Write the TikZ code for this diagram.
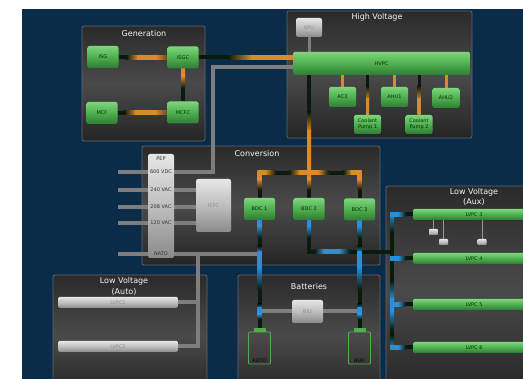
\documentclass[tikz,border=0pt]{standalone}
\usepackage{fontspec}
\setmainfont{DejaVu Sans}
\usetikzlibrary{positioning,calc}

\definecolor{bgblue}{HTML}{0B2C48}
\definecolor{pnltop}{HTML}{2A2A2A}
\definecolor{pnlmid}{HTML}{4A4A4A}
\definecolor{pnlbot}{HTML}{252525}
\definecolor{pnlrim}{HTML}{5E666C}
\definecolor{grnhi}{HTML}{7CD67A}
\definecolor{grnmid}{HTML}{4FAF4F}
\definecolor{grnlo}{HTML}{2E7D32}
\definecolor{slvhi}{HTML}{E6E6E6}
\definecolor{slvmid}{HTML}{BEBEBE}
\definecolor{slvlo}{HTML}{8A8A8A}
\definecolor{slvtxt}{HTML}{8E8E8E}
\definecolor{lndark}{HTML}{0A1A0C}
\definecolor{lnor}{HTML}{D98B2B}
\definecolor{lnblue}{HTML}{2B8FD8}
\definecolor{lngray}{HTML}{7E7E7E}

\pgfdeclarelayer{background}
\pgfdeclarelayer{wires}
\pgfsetlayers{background,wires,main}

% glow pieces on the dark wires
\newcommand{\hglow}[6][2]{\shade[left color=#5,right color=#6] (#2,#4-#1) rectangle (#3,#4+#1);}
\newcommand{\vglow}[6][2]{\shade[top color=#5,bottom color=#6] (#4-#1,#2) rectangle (#4+#1,#3);}

\begin{document}
\begin{tikzpicture}[x=1pt, y=-1pt, font=\fontsize{5}{6}\selectfont,
    panel/.style={draw=pnlrim, line width=0.8pt, rounded corners=2pt,
                  top color=pnltop, bottom color=pnlbot, middle color=pnlmid},
    title/.style={text=white!92!gray, font=\fontsize{8}{10.5}\selectfont,
                  align=center, inner sep=0pt},
    main node/.style={rounded corners=2pt, top color=grnhi, bottom color=grnlo,
                  middle color=grnmid, text=black!80!green, inner sep=0pt,
                  align=center, minimum width=31pt, minimum height=22pt},
    small node/.style={main node, minimum width=27pt, minimum height=20pt},
    silver node/.style={rounded corners=2pt, top color=slvhi, bottom color=slvlo,
                  middle color=slvmid, text=slvtxt, inner sep=0pt, align=center},
    bar/.style={rounded corners=1.5pt, top color=grnhi, bottom color=grnlo,
                  middle color=grnmid, inner sep=0pt, minimum height=11pt,
                  text=black!80!green},
    silver bar/.style={bar, top color=slvhi, bottom color=slvlo,
                  middle color=slvmid, text=slvtxt},
    pep text/.style={text=black!80, inner sep=0pt},
    load/.style={silver node, rounded corners=0.8pt, minimum width=9pt, minimum height=6pt},
    battery/.style={draw=grnmid, line width=0.8pt, rounded corners=1pt,
                  minimum width=22pt, minimum height=32pt, inner sep=0pt},
    wire/.style={line width=4pt, draw=lndark},
    thin wire/.style={line width=3pt, draw=lndark},
    gray wire/.style={line width=4pt, draw=lngray}]

  \useasboundingbox (0,0) rectangle (523,379);
  \clip (0,0) rectangle (523,379);

  % panels
  \begin{pgfonlayer}{background}
    \fill[bgblue] (22,9) rectangle (523,379);
    \draw[panel] (82,26) rectangle (205,141);
    \draw[panel] (287,11) rectangle (472,138);
    \draw[panel] (142,146) rectangle (380,265);
    \draw[panel] (53,275) rectangle (207,395);
    \draw[panel] (238,275) rectangle (380,395);
    \draw[panel] (386,186) rectangle (560,395);
  \end{pgfonlayer}

  \node[title] (gentitle) at (144,34) {Generation};
  \node[title] (hvtitle) at (377,17) {High Voltage};
  \node[title] (convtitle) at (257,154) {Conversion};
  \node[title] (autotitle) at (124,286.5) {Low Voltage\\(Auto)};
  \node[title] (battitle) at (309,287) {Batteries};
  \node[title] (auxtitle) at (474,197) {Low Voltage\\(Aux)};

  % generation
  \node[main node] (ISG) at (103,57) {ISG};
  \node[main node] (ISGC) at (183,57.5) {ISGC};
  \node[main node] (MCF) at (102,113) {MCF};
  \node[main node] (MCFC) at (183,112.5) {MCFC};

  % high voltage
  \node[silver node, minimum width=26pt, minimum height=19pt] (APU) at (309,27.5) {APU};
  \node[bar, minimum width=177pt, minimum height=23pt] (HVPC) at (381.5,63.5) {HVPC};
  \node[small node] (AC3) at (342.5,97) {AC3};
  \node[small node] (AHU1) at (394.5,97) {AHU1};
  \node[small node] (AHU2) at (446,98) {AHU2};
  \node[small node, minimum height=19pt] (CP1) at (367.5,124.5) {Coolant\\Pump 1};
  \node[small node, minimum height=19pt] (CP2) at (419,124.5) {Coolant\\Pump 2};

  % conversion
  \node[silver node, minimum width=26pt, minimum height=104pt] (PEP) at (161,206) {};
  \node[pep text] (peptitle) at (161,159) {PEP};
  \node[pep text] (pep600) at (161,172) {600 VDC};
  \node[pep text] (pep240) at (161,190) {240 VAC};
  \node[pep text] (pep208) at (161,207) {208 VAC};
  \node[pep text] (pep120) at (161,223) {120 VAC};
  \node[pep text] (pepnato) at (161,254) {NATO};
  \node[silver node, minimum width=35pt, minimum height=53pt] (IEPC) at (213.5,205.5) {IEPC};
  \node[main node] (BDC1) at (259.5,209) {BDC 1};
  \node[main node] (BDC2) at (309,209) {BDC 2};
  \node[main node] (BDC3) at (359.5,209.5) {BDC 3};

  % low voltage auto
  \node[silver bar, minimum width=120pt] (LVPC1) at (118,302.5) {LVPC1};
  \node[silver bar, minimum width=120pt] (LVPC2) at (118,346.5) {LVPC2};

  % batteries
  \node[silver node, minimum width=31pt, minimum height=23pt] (BIU) at (307.5,311.5) {BIU};
  \node[battery, label={[anchor=south, inner sep=2pt, text=black]south:AUTO}] (autobat) at (259.5,348) {};
  \node[battery, label={[anchor=south, inner sep=2pt, text=black]south:AUX}] (auxbat) at (359.5,348) {};
  \fill[grnmid] ($(autobat.north)+(-6,0)$) rectangle ($(autobat.north)+(6,-4)$);
  \fill[grnmid] ($(auxbat.north)+(-6,0)$) rectangle ($(auxbat.north)+(6,-4)$);

  % low voltage aux
  \node[bar, minimum width=122pt] (LVPC3) at (474,214.5) {LVPC 3};
  \node[bar, minimum width=122pt] (LVPC4) at (474,258.5) {LVPC 4};
  \node[bar, minimum width=122pt] (LVPC5) at (474,304.5) {LVPC 5};
  \node[bar, minimum width=122pt] (LVPC6) at (474,347.5) {LVPC 6};
  \node[load] (load1) at (433.5,232) {};
  \node[load] (load2) at (443.5,242) {};
  \node[load] (load3) at (482,242) {};

  \coordinate (gcorner) at (213,67);
  \coordinate (g600) at (118,172);
  \coordinate (g240) at (118,190);
  \coordinate (g208) at (118,207);
  \coordinate (g120) at (118,223);
  \coordinate (gnato) at (118,254);
  \coordinate (gauto) at (198,254);
  \coordinate (jc) at (309,173);
  \coordinate (auxbus) at (392,252);

  \begin{pgfonlayer}{wires}
    % gray lines
    \draw[gray wire] (g600) -- (g600 -| gcorner) -- (gcorner) -- (gcorner -| HVPC.west);
    \draw[gray wire] (g240) -- (g240 -| IEPC.west);
    \draw[gray wire] (g208) -- (g208 -| IEPC.west);
    \draw[gray wire] (g120) -- (g120 -| IEPC.west);
    \draw[gray wire] (gnato) -- (gnato -| BDC1);
    \draw[gray wire] (gauto) -- (gauto |- LVPC2.east) -- (LVPC2.east);
    \draw[gray wire] (LVPC1.east) -- (LVPC1.east -| gauto);
    \draw[gray wire, line width=3pt] (APU) -- (APU |- HVPC.north);
    \draw[gray wire] (autobat |- BIU) -- (auxbat |- BIU);
    \draw[lngray!80, line width=1pt] (load1.north |- LVPC3.south) -- (load1);
    \draw[lngray!80, line width=1pt] (load2.north |- LVPC3.south) -- (load2);
    \draw[lngray!80, line width=1pt] (load3.north |- LVPC3.south) -- (load3);

    % high voltage lines
    \draw[wire] (ISG) -- (ISGC);
    \draw[wire] (MCF) -- (MCFC);
    \draw[wire] (ISGC) -- (MCFC);
    \draw[wire] (ISGC.east) -- (ISGC.east -| HVPC.west);
    \draw[thin wire, draw=lnor] (HVPC.south -| AC3) -- (AC3);
    \draw[thin wire, draw=lnor] (HVPC.south -| AHU1) -- (AHU1);
    \draw[thin wire, draw=lnor] (HVPC.south -| AHU2) -- (AHU2);
    \draw[thin wire] (HVPC.south -| CP1) -- (CP1);
    \draw[thin wire] (HVPC.south -| CP2) -- (CP2);
    \draw[wire] (HVPC.south -| jc) -- (jc);
    \draw[wire] (BDC1.north) -- (BDC1.north |- jc) -- (BDC3.north |- jc) -- (BDC3.north);
    \draw[wire] (jc) -- (BDC2.north);
    \hglow{126}{138}{57.5}{lndark}{lnor} \hglow{137}{157}{57.5}{lnor}{lnor}
    \hglow{156}{167}{57.5}{lnor}{lnor!45!lndark}
    \hglow{124}{136}{113}{lndark}{lnor} \hglow{135}{156}{113}{lnor}{lnor}
    \hglow{155}{167}{113}{lnor}{lnor!45!lndark}
    \vglow{69}{77}{183}{lnor}{lnor} \vglow{76}{88}{183}{lnor}{lndark}
    \hglow{228}{252}{57.5}{lndark}{lnor} \hglow{251}{293}{57.5}{lnor}{lnor}
    \vglow[1.5]{86}{100}{367.5}{lndark}{lnor} \vglow[1.5]{99}{115}{367.5}{lnor}{lnor}
    \vglow[1.5]{86}{100}{419}{lndark}{lnor} \vglow[1.5]{99}{115}{419}{lnor}{lnor}
    \vglow{112}{132}{309}{lndark}{lnor} \vglow{131}{175}{309}{lnor}{lnor}
    \hglow{257.5}{266}{173}{lnor}{lnor} \hglow{265}{276}{173}{lnor}{lndark}
    \hglow{289}{300}{173}{lndark}{lnor} \hglow{299}{319}{173}{lnor}{lnor}
    \hglow{318}{329}{173}{lnor}{lndark} \hglow{343}{352}{173}{lndark}{lnor}
    \hglow{351}{361.5}{173}{lnor}{lnor}
    \foreach \xx in {259.5,309,359.5} {
      \vglow{171}{180}{\xx}{lnor}{lnor} \vglow{179}{190}{\xx}{lnor}{lndark}
    }

    % low voltage lines
    \draw[wire] (BDC1.south) -- (autobat.north);
    \draw[wire] (BDC3.south) -- (auxbat.north);
    \draw[wire] (BDC2.south) -- (BDC2.south |- auxbus) -- (auxbus);
    \draw[wire] (LVPC3.west) -- (LVPC3.west -| auxbus) -- (LVPC6.west -| auxbus) -- (LVPC6.west);
    \draw[wire] (LVPC4.west -| auxbus) -- (LVPC4.west);
    \draw[wire] (LVPC5.west -| auxbus) -- (LVPC5.west);
    \foreach \xx in {259.5,359.5} {
      \vglow{220}{227}{\xx}{lnblue}{lnblue} \vglow{226}{238}{\xx}{lnblue}{lndark}
      \vglow{246}{253}{\xx}{lndark}{lnblue} \vglow{252}{268}{\xx}{lnblue}{lnblue}
      \vglow{267}{290}{\xx}{lnblue}{lndark} \vglow{304}{309}{\xx}{lndark}{lnblue}
      \vglow{308}{315}{\xx}{lnblue}{lnblue} \vglow{314}{319}{\xx}{lnblue}{lndark}
    }
    \vglow{220}{227}{309}{lnblue}{lnblue} \vglow{226}{238}{309}{lnblue}{lndark}
    \hglow{314}{324}{252}{lndark}{lnblue} \hglow{323}{340}{252}{lnblue}{lnblue}
    \hglow{339}{350}{252}{lnblue}{lndark}
    \vglow{213}{232}{392}{lnblue}{lndark} \vglow{280}{300}{392}{lndark}{lnblue}
    \vglow{299}{312}{392}{lnblue}{lnblue} \vglow{311}{330}{392}{lnblue}{lndark}
    \vglow{335}{349.5}{392}{lndark}{lnblue}
    \foreach \yy in {214.5,258.5,304.5,347.5} {
      \hglow{390}{399}{\yy}{lnblue}{lnblue} \hglow{398}{406}{\yy}{lnblue}{lndark}
    }
  \end{pgfonlayer}
\end{tikzpicture}
\end{document}
